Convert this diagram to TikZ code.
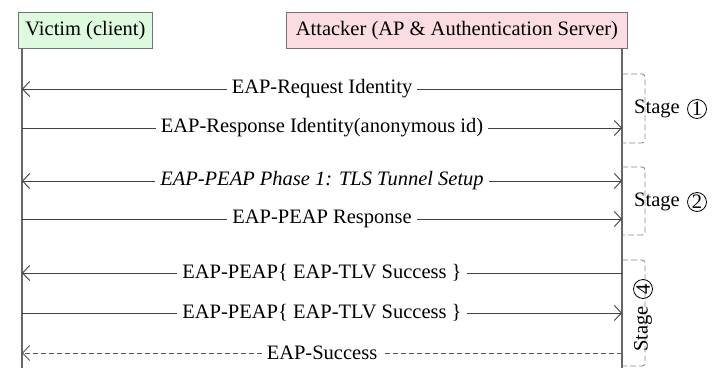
\documentclass[tikz,border=0pt]{standalone}
\usepackage{fontspec}
\setmainfont{Liberation Serif}
\usetikzlibrary{arrows.meta}
\definecolor{vicgreen}{HTML}{DEFADE}
\definecolor{attpink}{HTML}{FBDDE1}
\begin{document}
\begin{tikzpicture}[x=1pt,y=-1pt,
  font=\fontsize{20.5}{24}\selectfont,
  actor/.style={draw=black!55, line width=0.8pt, minimum height=36pt, inner xsep=3pt, anchor=north west},
  life/.style={draw=black!60, line width=1.2pt},
  msg/.style={draw=black!75, line width=0.9pt, -{Straight Barb[length=7pt,width=15pt,line width=0.9pt]}},
  dmsg/.style={msg, dash pattern=on 5pt off 3pt, draw=black!65},
  lbl/.style={fill=white, inner xsep=5pt, inner ysep=1pt},
  stagebox/.style={draw=black!45, dash pattern=on 6pt off 3pt, rounded corners=3pt, line width=0.9pt},
  circnum/.style={circle, draw, line width=0.8pt, inner sep=0pt, minimum size=19pt}]
\useasboundingbox (0,0) rectangle (728,380);

% actors
\node[actor, fill=vicgreen, minimum width=134pt] (victim) at (18,12) {Victim (client)};
\node[actor, fill=attpink, minimum width=341pt] (attacker) at (286,12) {Attacker (AP \& Authentication Server)};

% lifelines
\coordinate (vtop) at (22,48);
\coordinate (vbot) at (22,368);
\coordinate (atop) at (622,48);
\coordinate (abot) at (622,368);
\draw[life] (vtop) -- (vbot);
\draw[life] (atop) -- (abot);

% message end points
\foreach \i/\y in {1/89,2/128,3/181,4/219,5/273,6/313,7/353}{
  \coordinate (v\i) at (22,\y);
  \coordinate (a\i) at (622,\y);
}

\draw[msg] (a1) -- (v1) node[midway,lbl] (m1) {EAP-Request Identity};
\draw[msg] (v2) -- (a2) node[midway,lbl] (m2) {EAP-Response Identity(anonymous id)};
\draw[msg, {Straight Barb[length=7pt,width=15pt,line width=0.9pt]}-{Straight Barb[length=7pt,width=15pt,line width=0.9pt]}] (v3) -- (a3) node[midway,lbl] (m3) {\itshape EAP-PEAP Phase 1: TLS Tunnel Setup};
\draw[msg] (v4) -- (a4) node[midway,lbl] (m4) {EAP-PEAP Response};
\draw[msg] (a5) -- (v5) node[midway,lbl] (m5) {EAP-PEAP\{ EAP-TLV Success \}};
\draw[msg] (v6) -- (a6) node[midway,lbl] (m6) {EAP-PEAP\{ EAP-TLV Success \}};
\draw[dmsg] (a7) -- (v7) node[midway,lbl] (m7) {EAP-Success};

% stage brackets
\coordinate (s1t) at (622,74);  \coordinate (s1r) at (645,74);  \coordinate (s1rb) at (645,143); \coordinate (s1b) at (622,143);
\coordinate (s2t) at (622,167); \coordinate (s2r) at (645,167); \coordinate (s2rb) at (645,235); \coordinate (s2b) at (622,235);
\coordinate (s4t) at (622,260); \coordinate (s4r) at (645,260); \coordinate (s4rb) at (645,366); \coordinate (s4b) at (622,366);
\draw[stagebox] (s1t) -- (s1r) -- (s1rb) -- (s1b);
\draw[stagebox] (s2t) -- (s2r) -- (s2rb) -- (s2b);
\draw[stagebox] (s4t) -- (s4r) -- (s4rb) -- (s4b);

% stage labels
\node[anchor=west, inner sep=0pt] (st1) at (634,109) {Stage};
\node[circnum] (c1) at (697,109) {1};
\node[anchor=west, inner sep=0pt] (st2) at (634,202) {Stage};
\node[circnum] (c2) at (697,202) {2};
\node[rotate=90, anchor=west, inner sep=0pt] (st4) at (643,352) {Stage};
\node[circnum, rotate=90] (c4) at (643,289) {4};
\end{tikzpicture}
\end{document}
